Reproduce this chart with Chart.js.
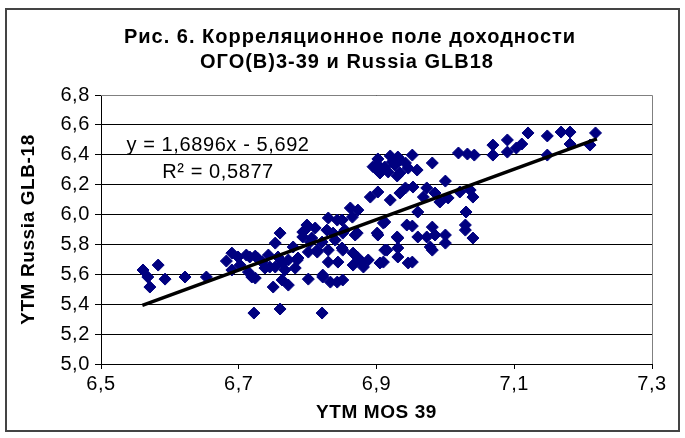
<!DOCTYPE html>
<html>
<head>
<meta charset="utf-8">
<script src="https://cdn.jsdelivr.net/npm/chart.js@4.4.1/dist/chart.umd.min.js"></script>
<style>
  html, body { margin: 0; padding: 0; background: #fff; }
  #wrap { width: 685px; height: 438px; position: relative; }
</style>
</head>
<body>
<div id="wrap"><canvas id="c" width="685" height="438"></canvas></div>
<script>
// ---- data ----
const titleLines = ['Рис. 6. Корреляционное поле доходности', 'ОГО(В)3-39 и Russia GLB18'];
const xAxisTitle = 'YTM MOS 39';
const yAxisTitle = 'YTM Russia GLB-18';
const xTicks = [6.5, 6.7, 6.9, 7.1, 7.3];
const yTicks = [5.0, 5.2, 5.4, 5.6, 5.8, 6.0, 6.2, 6.4, 6.6, 6.8];
const equationText = 'y = 1,6896x - 5,692';
const r2Text = 'R\u00B2 = 0,5877';
const trendSlope = 1.6896;
const trendIntercept = -5.692;
const trendXRange = [6.56, 7.22];

const mosYtm = [
  6.561, 6.583, 6.568, 6.571, 6.593, 6.622, 6.653, 6.690, 6.682, 6.690,
  6.699, 6.711, 6.719, 6.722, 6.724, 6.743, 6.753, 6.760, 6.760, 6.750,
  6.772, 6.745, 6.764, 6.779, 6.793, 6.801, 6.801, 6.814, 6.821, 6.822,
  6.833, 6.843, 6.851, 6.830, 6.843, 6.862, 6.851, 6.872, 6.851, 6.872,
  6.881, 6.901, 6.910, 6.915, 6.910, 6.930, 6.931, 6.944, 6.946, 6.793,
  6.785, 6.804, 6.828, 6.850, 6.865, 6.796, 6.811, 6.837, 6.854, 6.869,
  6.806, 6.821, 6.840, 6.814, 6.830, 6.850, 6.866, 6.879, 6.716, 6.727,
  6.757, 6.772, 6.786, 6.830, 6.844, 6.738, 6.753, 6.767, 6.782, 6.714,
  6.724, 6.763, 6.822, 6.702, 6.734, 6.902, 6.920, 6.931, 6.952, 6.901,
  6.912, 6.927, 6.942, 6.905, 6.917, 6.934, 6.946, 6.959, 6.981, 7.019,
  7.032, 7.042, 6.930, 6.902, 6.923, 6.891, 6.902, 6.920, 6.934, 6.942,
  6.953, 6.973, 7.000, 6.985, 6.968, 6.992, 7.004, 7.021, 7.036, 7.040,
  6.960, 7.030, 6.912, 6.873, 6.952, 6.981, 7.029, 7.029, 6.902, 6.931,
  6.960, 6.973, 6.985, 7.000, 7.040, 6.931, 6.978, 7.000, 6.912, 6.981,
  6.952, 6.888, 6.905, 7.069, 7.069, 7.090, 7.090, 7.103, 7.111, 7.120,
  7.148, 7.148, 7.168, 7.181, 7.181, 7.210, 7.218, 6.799, 6.895, 6.934,
  6.866
];
const glbYtm = [
  5.629, 5.662, 5.582, 5.515, 5.568, 5.582, 5.582, 5.742, 5.689, 5.629,
  5.716, 5.729, 5.582, 5.341, 5.722, 5.729, 5.809, 5.876, 5.368, 5.515,
  5.528, 5.649, 5.676, 5.783, 5.883, 5.749, 5.568, 5.762, 5.341, 5.595,
  5.548, 5.548, 5.562, 5.977, 5.963, 6.044, 5.876, 5.876, 5.762, 5.716,
  5.649, 5.876, 5.943, 5.762, 5.682, 5.850, 5.716, 5.930, 5.676, 5.850,
  5.696, 5.816, 5.896, 5.963, 5.983, 5.896, 5.910, 5.876, 5.896, 5.863,
  5.843, 5.816, 5.829, 5.749, 5.762, 5.776, 5.742, 5.682, 5.716, 5.709,
  5.716, 5.696, 5.709, 5.682, 5.682, 5.642, 5.649, 5.629, 5.642, 5.615,
  5.575, 5.562, 5.582, 5.662, 5.682, 6.372, 6.392, 6.385, 6.398, 6.298,
  6.318, 6.331, 6.345, 6.278, 6.285, 6.278, 6.311, 6.298, 6.345, 6.412,
  6.405, 6.398, 6.258, 6.331, 6.352, 6.117, 6.151, 6.097, 6.144, 6.178,
  6.184, 6.178, 6.224, 6.144, 6.117, 6.084, 6.111, 6.151, 6.164, 6.117,
  6.017, 6.017, 5.950, 6.030, 5.923, 5.916, 5.930, 5.896, 5.863, 5.843,
  5.850, 5.850, 5.863, 5.863, 5.843, 5.776, 5.783, 5.809, 5.762, 5.762,
  5.682, 5.696, 5.676, 6.465, 6.398, 6.499, 6.418, 6.445, 6.472, 6.546,
  6.526, 6.398, 6.552, 6.552, 6.472, 6.465, 6.546, 5.930, 6.320, 6.365,
  5.662
];

// ---- build chart ----
const FONT = "'Liberation Sans', Arial, sans-serif";
const points = mosYtm.map((x, i) => ({ x: x, y: glbYtm[i] }));
const trend = trendXRange.map(x => ({ x: x, y: trendSlope * x + trendIntercept }));
const fmt = v => Number(v).toFixed(1).replace('.', ',');

const framePlugin = {
  id: 'frame',
  beforeDraw(chart) {
    const ctx = chart.ctx;
    ctx.save();
    ctx.fillStyle = '#fff';
    ctx.fillRect(0, 0, chart.width, chart.height);
    ctx.strokeStyle = '#444';
    ctx.lineWidth = 2;
    ctx.strokeRect(6, 9, 673, 422);
    // title
    ctx.fillStyle = '#000';
    ctx.font = 'bold 20px ' + FONT;
    ctx.textAlign = 'center';
    ctx.textBaseline = 'middle';
    if ('letterSpacing' in ctx) ctx.letterSpacing = '1px';
    ctx.fillText(titleLines[0], 350, 37);
    ctx.fillText(titleLines[1], 347, 62);
    ctx.restore();
    if ('letterSpacing' in ctx) ctx.letterSpacing = '0.6px';
  },
  beforeDatasetsDraw(chart) {
    const { ctx, chartArea: a } = chart;
    ctx.save();
    ctx.strokeStyle = '#808080';
    ctx.lineWidth = 1;
    ctx.beginPath();
    ctx.moveTo(a.left, a.top + 0.5);
    ctx.lineTo(a.right + 0.5, a.top + 0.5);
    ctx.lineTo(a.right + 0.5, a.bottom);
    ctx.stroke();
    ctx.restore();
  },
  afterDatasetsDraw(chart) {
    const { ctx, chartArea: a } = chart;
    ctx.save();
    ctx.fillStyle = '#000';
    ctx.font = '20px ' + FONT;
    ctx.textAlign = 'center';
    ctx.textBaseline = 'middle';
    ctx.fillText(equationText, a.left + 117, a.top + 50);
    ctx.fillText(r2Text, a.left + 117, a.top + 77);
    ctx.restore();
  }
};

new Chart(document.getElementById('c'), {
  type: 'scatter',
  data: {
    datasets: [
      {
        type: 'line',
        data: trend,
        borderColor: '#000',
        borderWidth: 3.5,
        pointRadius: 0,
        fill: false,
        showLine: true
      },
      {
        data: points,
        pointStyle: 'rectRot',
        pointRadius: 6,
        backgroundColor: '#000080',
        borderColor: '#000080',
        borderWidth: 1
      }
    ]
  },
  options: {
    responsive: false,
    animation: false,
    events: [],
    layout: { padding: { left: 8, right: 33, top: 95, bottom: 8 } },
    plugins: {
      legend: { display: false },
      tooltip: { enabled: false },
      title: { display: false }
    },
    scales: {
      x: {
        type: 'linear',
        min: xTicks[0],
        max: xTicks[xTicks.length - 1],
        afterBuildTicks: s => { s.ticks = xTicks.map(v => ({ value: v })); },
        afterFit: s => { s.height = 66; },
        ticks: { callback: fmt, color: '#000', font: { family: FONT, size: 20 }, padding: 3, maxRotation: 0 },
        grid: { drawOnChartArea: false, drawTicks: true, tickLength: 5, color: '#000', lineWidth: 1 },
        border: { display: true, color: '#000', width: 1 },
        title: { display: true, text: xAxisTitle, color: '#000', font: { family: FONT, size: 19, weight: 'bold' }, padding: { top: 0, bottom: 6 } }
      },
      y: {
        type: 'linear',
        min: yTicks[0],
        max: yTicks[yTicks.length - 1],
        afterBuildTicks: s => { s.ticks = yTicks.map(v => ({ value: v })); },
        afterFit: s => { s.width = 93; },
        ticks: { callback: fmt, color: '#000', font: { family: FONT, size: 20 }, padding: 5 },
        grid: { drawOnChartArea: true, drawTicks: true, tickLength: 6, color: '#000', lineWidth: 1 },
        border: { display: true, color: '#000', width: 1 },
        title: { display: true, text: yAxisTitle, color: '#000', font: { family: FONT, size: 19, weight: 'bold' }, padding: { top: 9, bottom: 0 } }
      }
    }
  },
  plugins: [framePlugin]
});
</script>
</body>
</html>
